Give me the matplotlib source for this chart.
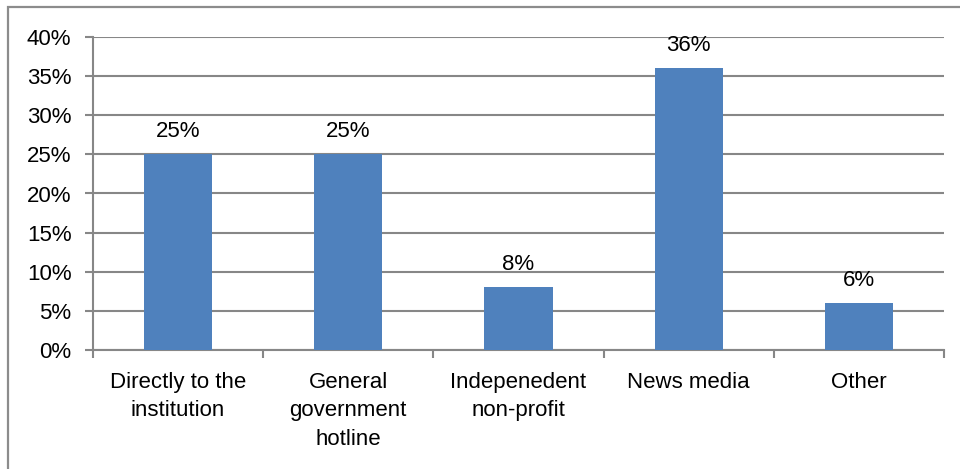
import matplotlib.pyplot as plt
from matplotlib.patches import Rectangle
from matplotlib.ticker import FixedLocator, PercentFormatter

plt.rcParams['font.family'] = ['Liberation Sans', 'DejaVu Sans']

categories = ["Directly to the\ninstitution", "General\ngovernment\nhotline",
              "Indepenedent\nnon-profit", "News media", "Other"]
shares = [25, 25, 8, 36, 6]
y_ticks = [0, 5, 10, 15, 20, 25, 30, 35, 40]

W, H = 960, 469
fig = plt.figure(figsize=(W / 100, H / 100), dpi=100)
# outer chart frame, cut off on the right and bottom
fig.patches.append(Rectangle((8 / W, -0.1), 1.2, (H - 7) / H + 0.1,
                             transform=fig.transFigure, fill=False,
                             edgecolor="#8c8c8c", linewidth=1.6))

ax = fig.add_axes([93 / W, (H - 350) / H, (944 - 93) / W, (350 - 37) / H])
grid_c = "#878787"
fs = 16

x = range(len(categories))
ax.bar(x, shares, width=0.4, color="#4F81BD", zorder=3)
for xi, v in zip(x, shares):
    ax.annotate(f"{v}%", (xi, v), xytext=(0, 9), textcoords="offset points",
                ha="center", va="bottom", fontsize=fs)

ax.set_xlim(-0.5, len(categories) - 0.5)
ax.set_ylim(0, 40)
ax.set_yticks(y_ticks)
ax.yaxis.set_major_formatter(PercentFormatter(decimals=0))
ax.set_xticks(list(x))
ax.set_xticklabels(categories, fontsize=fs, linespacing=1.45)
ax.xaxis.set_minor_locator(FixedLocator([i - 0.5 for i in range(len(categories) + 1)]))
ax.tick_params(axis="x", which="major", length=0, pad=16)
ax.tick_params(axis="x", which="minor", length=6, width=1.5, color=grid_c)
ax.tick_params(axis="y", length=6, width=1.5, color=grid_c, labelsize=fs, pad=9.5)

ax.grid(axis="y", color=grid_c, linewidth=1.5, zorder=0)
for s in ["top", "right"]:
    ax.spines[s].set_visible(False)
ax.spines["left"].set_color(grid_c)
ax.spines["left"].set_linewidth(1.5)
ax.spines["bottom"].set_color(grid_c)
ax.spines["bottom"].set_linewidth(1.5)

fig.savefig("out.png", dpi=100)
